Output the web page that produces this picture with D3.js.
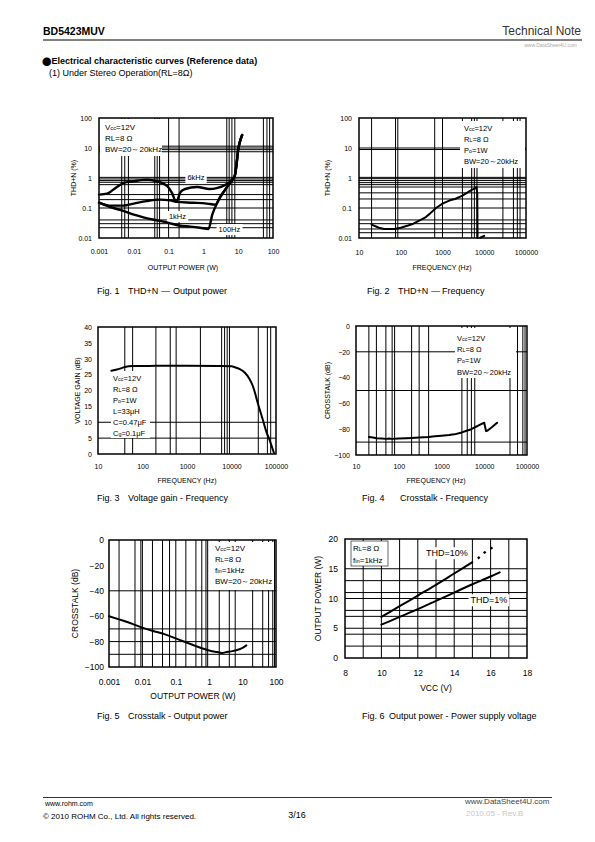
<!DOCTYPE html>
<html><head><meta charset="utf-8">
<script src="https://cdn.jsdelivr.net/npm/d3@7"></script>
<style>body{margin:0;background:#fff}svg{display:block}</style>
</head><body>
<script>
// ================= DATA =================
// Fig.1 THD+N - Output power
const fig1XTicks = [0.001, 0.01, 0.1, 1, 10, 100];
const fig1XLabels = ["0.001", "0.01", "0.1", "1", "10", "100"];
const fig1YTicks = [0.01, 0.1, 1, 10, 100];
const fig1YLabels = ["0.01", "0.1", "1", "10", "100"];
const fig1GridX = [0.0045, 0.0055, 0.007, 0.04, 0.047, 0.055, 0.1, 0.2, 4.7, 5.5, 6.6, 8, 53, 67, 80];
const fig1GridY = [11.5, 10, 8.8, 7.5, 1.05, 0.93, 0.82, 0.72, 0.6, 0.28, 0.19, 0.1, 0.04, 0.03, 0.022];
const fig1Power6k = [0.001, 0.0017, 0.0026, 0.005, 0.01, 0.024, 0.046, 0.09, 0.125, 0.165, 0.22, 0.3, 0.66, 1.5, 2.4, 4.4, 6.1, 8, 9, 10, 11, 12, 13];
const fig1Thd6k = [0.28, 0.3, 0.41, 0.68, 0.78, 0.88, 0.78, 0.55, 0.32, 0.16, 0.34, 0.43, 0.5, 0.43, 0.46, 0.6, 0.78, 1.2, 3, 9, 15, 21, 27];
const fig1Power1k = [0.001, 0.002, 0.005, 0.01, 0.023, 0.056, 0.11, 0.17, 0.5, 1.27, 2.2, 3.1, 4.8, 7, 8, 9, 10, 11, 12, 13];
const fig1Thd1k = [0.15, 0.12, 0.12, 0.14, 0.17, 0.19, 0.18, 0.16, 0.15, 0.14, 0.13, 0.25, 0.5, 0.9, 1.2, 3, 9, 15, 21, 27];
const fig1Power100 = [0.001, 0.002, 0.005, 0.01, 0.02, 0.05, 0.1, 0.2, 0.43, 0.8, 1.4, 1.8, 2.5, 4.2, 6, 8, 9, 10, 11, 12, 13];
const fig1Thd100 = [0.15, 0.11, 0.08, 0.06, 0.048, 0.038, 0.032, 0.026, 0.024, 0.022, 0.02, 0.06, 0.15, 0.4, 0.77, 1.2, 3, 9, 15, 21, 27];
const fig1SeriesNames = ["6kHz", "1kHz", "100Hz"];
const fig1Legend = ["V_{cc}=12V", "RL=8 Ω", "BW=20～20kHz"];

// Fig.2 THD+N - Frequency
const freqTicks = [10, 100, 1000, 10000, 100000];
const freqLabels = ["10", "100", "1000", "10000", "100000"];
const fig2GridX = [20, 75, 85, 650, 1000, 3000, 5000, 5800, 6700, 28000, 50000, 62000, 72000];
const fig2GridY = [10, 8.9, 1.05, 0.95, 0.82, 0.7, 0.6, 0.5, 0.32, 0.2, 0.1, 0.04, 0.03, 0.02, 0.015];
const fig2Freq = [20, 30, 40, 50, 70, 100, 150, 200, 300, 400, 500, 700, 1000, 1500, 2000, 3000, 4000, 5000, 6000, 6500, 6800, 6900];
const fig2Thd = [0.028, 0.022, 0.02, 0.02, 0.02, 0.022, 0.026, 0.03, 0.04, 0.05, 0.065, 0.1, 0.14, 0.18, 0.2, 0.26, 0.33, 0.4, 0.45, 0.5, 0.3, 0.01];
const fig2TailFreq = [8000, 9000, 10000];
const fig2TailThd = [0.0102, 0.011, 0.0118];
const fig2Legend = ["V_{cc}=12V", "R_{L}=8 Ω", "P_{o}=1W", "BW=20～20kHz"];

// Fig.3 Voltage gain - Frequency
const fig3YTicks = [0, 5, 10, 15, 20, 25, 30, 35, 40];
const fig3YLabels = ["0", "5", "10", "15", "20", "25", "30", "35", "40"];
const fig3GridX = [40, 60, 200, 420, 570, 2000, 6000, 7000, 8000, 9000, 40000, 64000, 76000];
const fig3GridY = [5, 10];
const fig3Freq = [20, 30, 40, 60, 100, 200, 500, 1000, 5000, 10000, 12000, 15000, 20000, 25000, 30000, 40000, 50000, 60000, 70000, 80000, 90000];
const fig3Gain = [26.2, 26.8, 27.4, 27.7, 27.7, 27.8, 27.8, 27.8, 27.7, 27.6, 27.3, 26.8, 25.6, 23.8, 21.5, 15.5, 11, 7.2, 4.8, 2.5, 0.3];
const fig3Legend = ["V_{cc}=12V", "R_{L}=8 Ω", "P_{o}=1W", "L=33μH", "C=0.47μF", "C_{g}=0.1μF"];

// Fig.4 Crosstalk - Frequency
const xtalkTicks = [0, -20, -40, -60, -80, -100];
const xtalkLabels = ["0", "−20", "−40", "−60", "−80", "−100"];
const fig4GridX = [20, 30, 50, 70, 80, 200, 300, 500, 3000, 4000, 5000, 6000, 40000, 60000, 80000, 90000];
const fig4GridY = [-20, -50, -90];
const fig4Freq = [20, 25, 30, 40, 50, 60, 70, 100, 150, 200, 300, 500, 700, 1000, 1500, 2000, 3000, 4000, 5000, 6000, 7000, 8000, 10000, 11000, 12000, 15000, 20000];
const fig4Xtalk = [-86, -86.5, -87, -87.2, -87.5, -87.3, -87.5, -87.2, -87, -86.8, -86.5, -86, -85.5, -85, -84.5, -84, -82.5, -81, -80, -78.5, -77.5, -76.5, -75, -81.5, -81, -78.5, -75];
const fig4Legend = ["V_{cc}=12V", "R_{L}=8 Ω", "P_{o}=1W", "BW=20～20kHz"];

// Fig.5 Crosstalk - Output power
const fig5GridX = [0.002, 0.006, 0.009, 0.01, 0.02, 0.04, 0.065, 0.1, 0.2, 0.4, 0.6, 0.8, 0.9, 2, 4, 6, 20, 40, 60, 80, 90];
const fig5GridY = [-40, -70, -80, -90];
const fig5Power = [0.001, 0.002, 0.005, 0.01, 0.02, 0.05, 0.1, 0.2, 0.5, 1, 1.5, 2, 2.5, 3, 5, 8, 10, 13];
const fig5Xtalk = [-60, -62.5, -66, -69, -71.5, -74.5, -77.5, -80.5, -84.5, -87, -88, -88.5, -89, -88.5, -87.5, -86, -85, -83];
const fig5Legend = ["V_{cc}=12V", "R_{L}=8 Ω", "f_{in}=1kHz", "BW=20～20kHz"];

// Fig.6 Output power - Power supply voltage
const fig6XTicks = [8, 10, 12, 14, 16, 18];
const fig6XLabels = ["8", "10", "12", "14", "16", "18"];
const fig6YTicks = [0, 5, 10, 15, 20];
const fig6YLabels = ["0", "5", "10", "15", "20"];
const fig6GridX = [9, 10, 11, 12, 13, 14, 15, 16, 17];
const fig6GridY = [2, 4, 5, 7, 8, 10, 11, 13, 15];
const fig6Vcc10 = [10, 11, 12, 13, 14, 15];
const fig6Pout10 = [6.9, 8.7, 10.5, 12.3, 14.2, 16.1];
const fig6Vcc10Dot = [15.3, 15.6, 15.95, 16.35];
const fig6Pout10Dot = [16.7, 17.6, 18.3, 19.0];
const fig6Vcc1 = [10, 11, 12, 13, 14, 15, 16, 16.5];
const fig6Pout1 = [5.6, 6.9, 8.2, 9.6, 11.0, 12.4, 13.7, 14.4];
const fig6SeriesNames = ["THD=10%", "THD=1%"];
const fig6Legend = ["R_{L}=8 Ω", "f_{in}=1kHz"];

// ================= DRAWING =================
const FONT = "'Liberation Sans', Arial, Helvetica, sans-serif";
const svg = d3.select("body").append("svg")
  .attr("width", 595).attr("height", 842)
  .attr("font-family", FONT).attr("fill", "#000");

function parseRich(str) {
  const out = []; const re = /_\{([^}]*)\}/g; let last = 0, m;
  while ((m = re.exec(str))) {
    if (m.index > last) out.push([str.slice(last, m.index), false]);
    out.push([m[1], true]); last = re.lastIndex;
  }
  if (last < str.length) out.push([str.slice(last), false]);
  return out;
}
function rich(g, x, y, str, size, anchor) {
  const t = g.append("text").attr("x", x).attr("y", y).attr("font-size", size)
    .attr("text-anchor", anchor || "start");
  parseRich(str).forEach(s => {
    const ts = t.append("tspan").text(s[0]);
    if (s[1]) ts.attr("font-size", size * 0.72);
  });
  return t;
}
function boxedText(g, x, y, str, size, anchor, pad) {
  const t = rich(g, x, y, str, size, anchor);
  const bb = t.node().getBBox();
  g.insert("rect", () => t.node())
    .attr("x", bb.x - pad).attr("y", bb.y - 1).attr("width", bb.width + 2 * pad).attr("height", bb.height + 2)
    .attr("fill", "#fff");
  return t;
}

function chart(c) {
  const g = svg.append("g");
  const x = (c.xLog ? d3.scaleLog() : d3.scaleLinear()).domain(c.xDomain).range([c.l, c.r]);
  const y = (c.yLog ? d3.scaleLog() : d3.scaleLinear()).domain(c.yDomain).range([c.b, c.t]);
  // grid
  g.append("g").selectAll("line").data(c.gridX).join("line")
    .attr("x1", d => x(d)).attr("x2", d => x(d)).attr("y1", c.t).attr("y2", c.b)
    .attr("stroke", "#000").attr("stroke-width", c.gw || 1);
  g.append("g").selectAll("line").data(c.gridY).join("line")
    .attr("y1", d => y(d)).attr("y2", d => y(d)).attr("x1", c.l).attr("x2", c.r)
    .attr("stroke", "#000").attr("stroke-width", c.gw || 1);
  // legend box
  if (c.legend) {
    const L = c.legend;
    g.append("rect").attr("x", L.bx).attr("y", L.by).attr("width", L.bw).attr("height", L.bh)
      .attr("fill", "#fff").attr("stroke", L.border ? "#000" : "none").attr("stroke-width", 0.6);
    L.lines.forEach((s, i) => rich(g, L.x, L.y + i * L.lh, s, L.size));
  }
  // curve labels
  (c.labels || []).forEach(lb => {
    boxedText(g, x(lb.x), y(lb.y), lb.text, lb.size, lb.anchor || "middle", 2);
  });
  // frame
  g.append("rect").attr("x", c.l).attr("y", c.t).attr("width", c.r - c.l).attr("height", c.b - c.t)
    .attr("fill", "none").attr("stroke", "#000").attr("stroke-width", 1.5);
  // series
  const line = d3.line().x(d => x(d[0])).y(d => y(d[1])).curve(d3.curveMonotoneX);
  const lineLin = d3.line().x(d => x(d[0])).y(d => y(d[1]));
  c.series.forEach(s => {
    const pts = d3.zip(s.x, s.y);
    g.append("path").attr("d", (s.linear ? lineLin : line)(pts))
      .attr("fill", "none").attr("stroke", "#000").attr("stroke-width", s.w || 2)
      .attr("stroke-linejoin", "round").attr("stroke-linecap", s.dash ? "butt" : "round")
      .attr("stroke-dasharray", s.dash || null);
  });
  // axes
  const ax = g.append("g").attr("transform", `translate(0,${c.b})`)
    .call(d3.axisBottom(x).tickValues(c.xTicks).tickFormat((d, i) => c.xLabels[i]).tickSize(0).tickPadding(c.xPad));
  ax.select(".domain").remove();
  ax.selectAll("text").attr("font-size", c.tickSize).attr("font-family", FONT).attr("fill", "#000");
  const ay = g.append("g").attr("transform", `translate(${c.l},0)`)
    .call(d3.axisLeft(y).tickValues(c.yTicks).tickFormat((d, i) => c.yLabels[i]).tickSize(0).tickPadding(c.yPad));
  ay.select(".domain").remove();
  ay.selectAll("text").attr("font-size", c.tickSize).attr("font-family", FONT).attr("fill", "#000");
  // titles
  g.append("text").attr("x", c.xTitleX).attr("y", c.xTitleY).attr("text-anchor", "middle")
    .attr("font-size", c.titleSize).text(c.xTitle);
  g.append("text").attr("transform", `translate(${c.yTitleX},${(c.t + c.b) / 2 + (c.yTitleOff || 0)}) rotate(-90)`)
    .attr("text-anchor", "middle").attr("dominant-baseline", "central")
    .attr("font-size", c.titleSize).text(c.yTitle);
}

// Fig.1
chart({
  l: 99, r: 273, t: 118, b: 238, xLog: true, xDomain: [0.001, 100], yLog: true, yDomain: [0.01, 100],
  xTicks: fig1XTicks, xLabels: fig1XLabels, yTicks: fig1YTicks, yLabels: fig1YLabels,
  gridX: fig1GridX, gridY: fig1GridY, tickSize: 7, xPad: 11, yPad: 7,
  xTitle: "OUTPUT POWER (W)", xTitleX: 183, xTitleY: 270, yTitle: "THD+N (%)", yTitleX: 73, titleSize: 7,
  legend: { bx: 100, by: 119, bw: 62, bh: 37, x: 105, y: 129.5, lh: 11.3, size: 8, lines: fig1Legend },
  labels: [
    { text: fig1SeriesNames[0], x: 0.61, y: 0.86, size: 7.5 },
    { text: fig1SeriesNames[1], x: 0.18, y: 0.043, size: 7.5 },
    { text: fig1SeriesNames[2], x: 5.6, y: 0.0158, size: 7.5 }
  ],
  series: [
    { x: fig1Power6k, y: fig1Thd6k, w: 2.4 },
    { x: fig1Power1k, y: fig1Thd1k, w: 2.4 },
    { x: fig1Power100, y: fig1Thd100, w: 2.4 }
  ]
});

// Fig.2
chart({
  l: 359, r: 526, t: 118, b: 238, xLog: true, xDomain: [10, 100000], yLog: true, yDomain: [0.01, 100],
  xTicks: freqTicks, xLabels: freqLabels, yTicks: fig1YTicks, yLabels: fig1YLabels,
  gridX: fig2GridX, gridY: fig2GridY, tickSize: 7, xPad: 12, yPad: 7,
  xTitle: "FREQUENCY (Hz)", xTitleX: 442, xTitleY: 270, yTitle: "THD+N (%)", yTitleX: 327, titleSize: 7,
  legend: { bx: 460, by: 121, bw: 65, bh: 47, x: 464, y: 130.5, lh: 11, size: 7.5, lines: fig2Legend },
  series: [
    { x: fig2Freq, y: fig2Thd, w: 2, linear: true },
    { x: fig2TailFreq, y: fig2TailThd, w: 2, linear: true }
  ]
});

// Fig.3
chart({
  l: 98, r: 276, t: 327, b: 454, xLog: true, xDomain: [10, 100000], yLog: false, yDomain: [0, 40],
  xTicks: freqTicks, xLabels: freqLabels, yTicks: fig3YTicks, yLabels: fig3YLabels,
  gridX: fig3GridX, gridY: fig3GridY, tickSize: 7, xPad: 10, yPad: 6,
  xTitle: "FREQUENCY (Hz)", xTitleX: 187, xTitleY: 483, yTitle: "VOLTAGE GAIN (dB)", yTitleX: 77, titleSize: 7,
  legend: { bx: 111, by: 371, bw: 39, bh: 67, x: 113, y: 380.7, lh: 11.1, size: 7.5, lines: fig3Legend },
  series: [{ x: fig3Freq, y: fig3Gain, w: 2 }]
});

// Fig.4
chart({
  l: 356, r: 527, t: 326, b: 455, xLog: true, xDomain: [10, 100000], yLog: false, yDomain: [-100, 0],
  xTicks: freqTicks, xLabels: freqLabels, yTicks: xtalkTicks, yLabels: xtalkLabels,
  gridX: fig4GridX, gridY: fig4GridY, tickSize: 7, xPad: 9, yPad: 6,
  xTitle: "FREQUENCY (Hz)", xTitleX: 436, xTitleY: 483, yTitle: "CROSSTALK (dB)", yTitleX: 327, titleSize: 7,
  legend: { bx: 455, by: 328, bw: 61, bh: 50, x: 457, y: 341, lh: 11.2, size: 7.5, lines: fig4Legend },
  series: [{ x: fig4Freq, y: fig4Xtalk, w: 2, linear: true }]
});

// Fig.5
chart({
  l: 109, r: 276, t: 540, b: 667, xLog: true, xDomain: [0.001, 100], yLog: false, yDomain: [-100, 0],
  xTicks: fig1XTicks, xLabels: fig1XLabels, yTicks: xtalkTicks, yLabels: xtalkLabels,
  gridX: fig5GridX, gridY: fig5GridY, tickSize: 8.5, xPad: 12, yPad: 5,
  xTitle: "OUTPUT POWER (W)", xTitleX: 193, xTitleY: 699, yTitle: "CROSSTALK (dB)", yTitleX: 75, titleSize: 8.5,
  legend: { bx: 212, by: 542, bw: 62, bh: 48, x: 215, y: 551, lh: 11, size: 8, lines: fig5Legend },
  series: [{ x: fig5Power, y: fig5Xtalk, w: 2 }]
});

// Fig.6
chart({
  l: 345, r: 527, t: 539, b: 658, xLog: false, xDomain: [8, 18], yLog: false, yDomain: [0, 20],
  xTicks: fig6XTicks, xLabels: fig6XLabels, yTicks: fig6YTicks, yLabels: fig6YLabels,
  gridX: fig6GridX, gridY: fig6GridY, tickSize: 8.5, xPad: 12, yPad: 7,
  xTitle: "VCC (V)", xTitleX: 436, xTitleY: 691, yTitle: "OUTPUT POWER (W)", yTitleX: 318, titleSize: 8.5,
  legend: { bx: 351, by: 541, bw: 37, bh: 25, border: true, x: 353, y: 550.5, lh: 12, size: 8, lines: fig6Legend },
  labels: [
    { text: fig6SeriesNames[0], x: 12.45, y: 17.1, size: 9, anchor: "start" },
    { text: fig6SeriesNames[1], x: 14.9, y: 9.2, size: 9, anchor: "start" }
  ],
  series: [
    { x: fig6Vcc10, y: fig6Pout10, w: 2 },
    { x: fig6Vcc10Dot, y: fig6Pout10Dot, w: 2.2, dash: "2.5,5.5", linear: true },
    { x: fig6Vcc1, y: fig6Pout1, w: 2 }
  ]
});

// ================= PAGE TEXT =================
const page = svg.append("g");
page.append("text").attr("x", 43).attr("y", 35).attr("font-size", 10.5).attr("font-weight", "bold").text("BD5423MUV");
page.append("text").attr("x", 581).attr("y", 35).attr("font-size", 12).attr("text-anchor", "end").attr("fill", "#333").text("Technical Note");
page.append("line").attr("x1", 43).attr("x2", 582).attr("y1", 40).attr("y2", 40).attr("stroke", "#000").attr("stroke-width", 1);
page.append("text").attr("x", 577).attr("y", 47).attr("font-size", 5).attr("text-anchor", "end").attr("fill", "#aaa").text("www.DataSheet4U.com");
const head = page.append("text").attr("x", 42).attr("y", 64).attr("font-size", 9).attr("font-weight", "bold");
head.append("tspan").attr("font-family", "'Noto Sans CJK JP', 'DejaVu Sans', sans-serif").attr("font-size", 9.5).attr("dy", 0.5).text("●");
head.append("tspan").attr("dy", -0.5).text("Electrical characteristic curves (Reference data)");
page.append("text").attr("x", 49).attr("y", 76).attr("font-size", 9).text("(1) Under Stereo Operation(RL=8Ω)");

function caption(x, y, parts) {
  parts.forEach(p => page.append("text").attr("x", x + p[0]).attr("y", y).attr("font-size", 9).text(p[1]));
}
caption(97, 294, [[0, "Fig. 1"], [31, "THD+N"], [64, "―"], [76, "Output power"]]);
caption(367, 294, [[0, "Fig. 2"], [31, "THD+N"], [64, "―"], [75, "Frequency"]]);
caption(97, 501, [[0, "Fig. 3"], [31, "Voltage gain - Frequency"]]);
caption(362, 501, [[0, "Fig. 4"], [38, "Crosstalk - Frequency"]]);
caption(97, 719, [[0, "Fig. 5"], [31, "Crosstalk - Output power"]]);
caption(362, 719, [[0, "Fig. 6"], [27, "Output power - Power supply voltage"]]);

// footer
page.append("line").attr("x1", 43).attr("x2", 552).attr("y1", 797.5).attr("y2", 797.5).attr("stroke", "#000").attr("stroke-width", 0.8);
page.append("text").attr("x", 45).attr("y", 806).attr("font-size", 7).text("www.rohm.com");
page.append("text").attr("x", 43).attr("y", 819).attr("font-size", 8).text("© 2010 ROHM Co., Ltd. All rights reserved.");
page.append("text").attr("x", 297).attr("y", 818).attr("font-size", 9).attr("text-anchor", "middle").text("3/16");
page.append("text").attr("x", 466).attr("y", 816).attr("font-size", 8).attr("fill", "#c8c8c8").text("2010.05 - Rev.B");
page.append("text").attr("x", 465).attr("y", 804).attr("font-size", 8).attr("fill", "#444").text("www.DataSheet4U.com");
</script>
</body></html>
